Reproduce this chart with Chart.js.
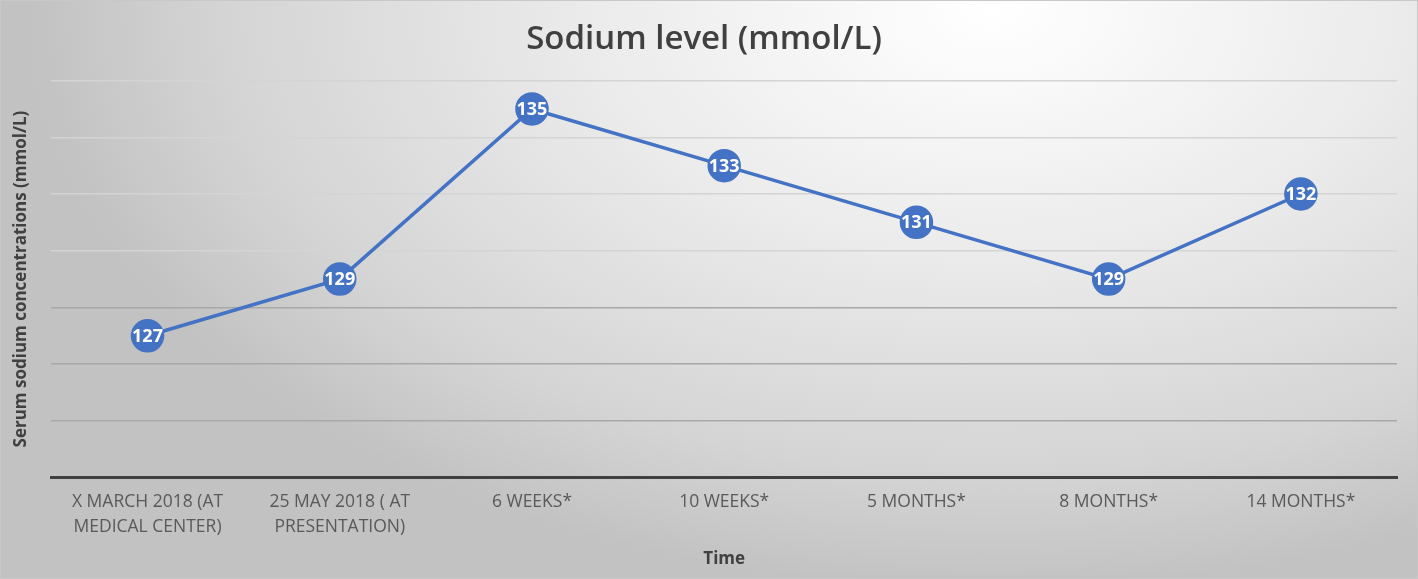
<!DOCTYPE html>
<html lang="en">
<head>
<meta charset="UTF-8">
<title>Sodium level</title>
<script src="https://cdn.jsdelivr.net/npm/chart.js"></script>
<style>
    html, body {
        margin: 0;
        padding: 0;
    }
    #wrap {
        width: 1418px;
        height: 579px;
        box-sizing: border-box;
        border: 1px solid #c8c8c8;
        background: radial-gradient(ellipse 68% 100% at 70% 2%, #ffffff 0%, #ebebeb 42%, #d4d4d4 80%, #c2c2c2 100%);
    }
</style>
</head>
<body>
<div id="wrap">
    <canvas id="sodiumChart" width="1416" height="577"></canvas>
</div>

<script>
    const timeLabels = [
        ['X MARCH 2018 (AT', 'MEDICAL CENTER)'],
        ['25 MAY 2018 ( AT', 'PRESENTATION)'],
        '6 WEEKS*',
        '10 WEEKS*',
        '5 MONTHS*',
        '8 MONTHS*',
        '14 MONTHS*'
    ];
    const sodiumValues = [127, 129, 135, 133, 131, 129, 132];
    const yMin = 122;
    const yMax = 136;
    const yStep = 2;

    const blue = '#4472C4';
    const fontFamily = "'Open Sans', 'Liberation Sans', sans-serif";

    // white numbers drawn in the middle of each marker
    const pointLabels = {
        id: 'pointLabels',
        afterDatasetsDraw(chart) {
            const ctx = chart.ctx;
            const meta = chart.getDatasetMeta(0);
            ctx.save();
            ctx.fillStyle = '#ffffff';
            ctx.font = 'bold 18px ' + fontFamily;
            ctx.textAlign = 'center';
            ctx.textBaseline = 'middle';
            meta.data.forEach((pt, i) => {
                ctx.fillText(chart.data.datasets[0].data[i], pt.x, pt.y + 1);
            });
            ctx.restore();
        }
    };

    new Chart(document.getElementById('sodiumChart'), {
        type: 'line',
        data: {
            labels: timeLabels,
            datasets: [{
                data: sodiumValues,
                borderColor: blue,
                borderWidth: 3.5,
                backgroundColor: blue,
                pointBackgroundColor: blue,
                pointBorderColor: blue,
                pointRadius: 15,
                pointHoverRadius: 15,
                tension: 0
            }]
        },
        options: {
            responsive: false,
            animation: false,
            layout: { padding: { left: 10, right: 20, top: 0, bottom: 9 } },
            plugins: {
                legend: { display: false },
                tooltip: { enabled: false },
                title: {
                    display: true,
                    text: 'Sodium level (mmol/L)',
                    color: '#404040',
                    font: { family: fontFamily, size: 33, weight: '600' },
                    padding: { top: 19, bottom: 21 }
                }
            },
            scales: {
                x: {
                    offset: true,
                    grid: { display: false },
                    border: { display: true, color: '#404040', width: 3 },
                    ticks: {
                        color: '#595959',
                        font: { family: fontFamily, size: 17.5, lineHeight: 1.43 },
                        padding: 4,
                        maxRotation: 0,
                        autoSkip: false
                    },
                    title: {
                        display: true,
                        text: 'Time',
                        color: '#404040',
                        font: { family: fontFamily, size: 17, weight: 'bold' },
                        padding: { top: 5, bottom: 0 }
                    }
                },
                y: {
                    min: yMin,
                    max: yMax,
                    grid: {
                        drawTicks: false,
                        lineWidth: 1.5,
                        color: (c) => {
                            if (c.tick.value <= yMin) return 'rgba(0,0,0,0)';
                            return c.tick.value <= 128 ? '#a8a8a8' : '#d4d4d4';
                        }
                    },
                    border: { display: false },
                    ticks: { display: false, stepSize: yStep },
                    title: {
                        display: true,
                        text: 'Serum sodium concentrations (mmol/L)',
                        color: '#404040',
                        font: { family: fontFamily, size: 17, weight: 'bold' },
                        padding: { top: 0, bottom: 20 }
                    }
                }
            }
        },
        plugins: [pointLabels]
    });
</script>
</body>
</html>
